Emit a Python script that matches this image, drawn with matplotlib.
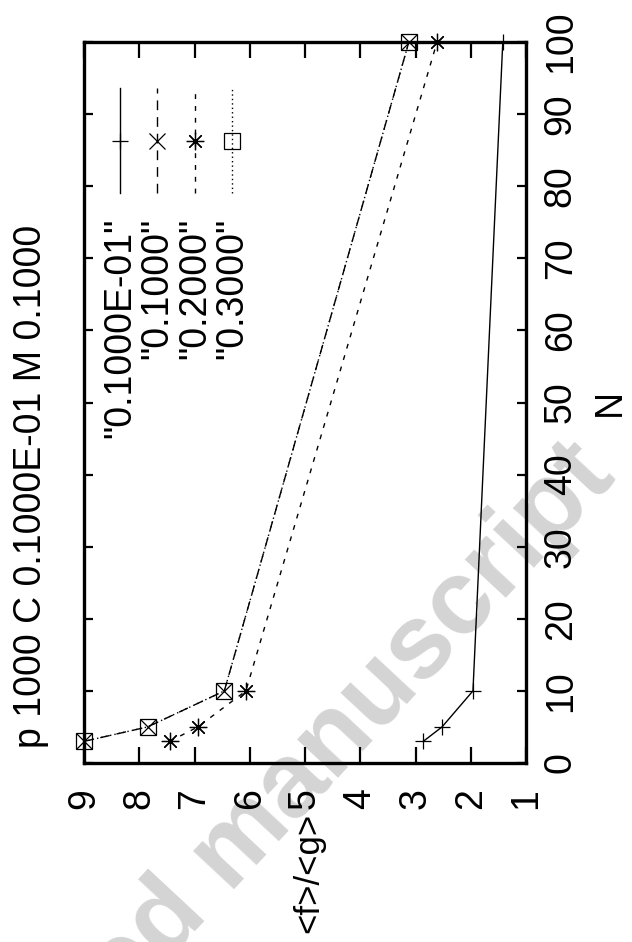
import matplotlib
matplotlib.use("Agg")
import matplotlib.pyplot as plt
from matplotlib.lines import Line2D

plt.rcParams['font.family'] = ['Liberation Sans', 'DejaVu Sans']

# ---- data ----
N = [3, 5, 10, 100]
series_names = ['"0.1000E-01"', '"0.1000"', '"0.2000"', '"0.3000"']
ratio_001 = [2.86, 2.52, 1.96, 1.42]
ratio_01 = [9.0, 7.85, 6.46, 3.12]
ratio_02 = [7.45, 6.94, 6.07, 2.61]
ratio_03 = [9.0, 7.85, 6.46, 3.12]
ratio_ticks = [9, 8, 7, 6, 5, 4, 3, 2, 1]
n_ticks = [0, 10, 20, 30, 40, 50, 60, 70, 80, 90, 100]
title = "p 1000 C 0.1000E-01 M 0.1000"

W, H = 632, 942
fig = plt.figure(figsize=(W / 100, H / 100), dpi=100)

# watermark behind everything
fig.text(618 / W, 1 - 478 / H, "Accepted manuscript", fontsize=76, fontweight='bold',
         color='#d4d4d4', rotation=47, rotation_mode='anchor', ha='right', va='baseline',
         zorder=-5)

left, right, top, bottom = 84, 526, 42, 763
ax = fig.add_axes([left / W, 1 - bottom / H, (right - left) / W, (bottom - top) / H])
ax.set_facecolor('none')

FS = 27
lw = 1.0
ms = 12
styles = [
    dict(ls='-', marker='+', ms=ms),
    dict(ls=(0, (7, 5)), marker='x', ms=ms * 0.95),
    dict(ls=(0, (3.5, 5)), marker=(8, 2, 0), ms=ms * 1.05),
    dict(ls=(0, (1, 2.2)), marker='s', ms=ms, mfc='none'),
]
data = [ratio_001, ratio_01, ratio_02, ratio_03]
for vals, st in zip(data, styles):
    ax.plot(vals, N, color='black', lw=lw, mew=0.9, clip_on=False, **st)

ax.set_xlim(9, 1)
ax.set_ylim(0, 100)

ax.set_xticks(ratio_ticks)
ax.set_xticklabels([str(t) for t in ratio_ticks])
ax.set_yticks(n_ticks)
ax.set_yticklabels([str(t) for t in n_ticks])

for sp in ax.spines.values():
    sp.set_linewidth(2.4)

ax.tick_params(axis='x', which='both', direction='in', length=11.5, width=1.6,
               top=True, bottom=True, labeltop=False, labelbottom=True,
               labelsize=FS, labelrotation=90, pad=18)
ax.tick_params(axis='y', which='both', direction='in', length=6.5, width=1.6,
               left=True, right=True, labelleft=False, labelright=True,
               labelsize=FS, labelrotation=90, pad=12)
for t in ax.yaxis.get_major_ticks():
    t.label2.set_va('center')
    t.label2.set_ha('left')

# axis labels and title (rotated)
fig.text(610 / W, 1 - 403 / H, "N", fontsize=FS, rotation=90, ha='center', va='center')
fig.text(309 / W, 1 - 873 / H, "<f>/<g>", fontsize=25, rotation=90, ha='center', va='center')
fig.text(31 / W, 1 - 486 / H, title, fontsize=FS, rotation=90, ha='center', va='center')

# legend (rotated, drawn manually in axes coordinates)
cols = [120, 157, 195, 232]
y_line_top, y_line_bot, y_mark, y_text = 88, 193, 141, 218
def ay(py):
    return (bottom - py) / (bottom - top)
def ax_(px):
    return (px - left) / (right - left)
for name, st, cx in zip(series_names, styles, cols):
    xa = ax_(cx)
    ax.add_line(Line2D([xa, xa], [ay(y_line_bot), ay(y_line_top)], transform=ax.transAxes,
                       color='black', lw=lw, ls=st['ls']))
    ax.add_line(Line2D([xa], [ay(y_mark)], transform=ax.transAxes, color='black', ls='none',
                       marker=st['marker'], ms=st['ms'], mfc=st.get('mfc', 'black'), mew=0.9))
    ax.text(xa, ay(y_text), name, transform=ax.transAxes, fontsize=FS, rotation=90,
            ha='center', va='top')

fig.savefig("out.png", dpi=100)
